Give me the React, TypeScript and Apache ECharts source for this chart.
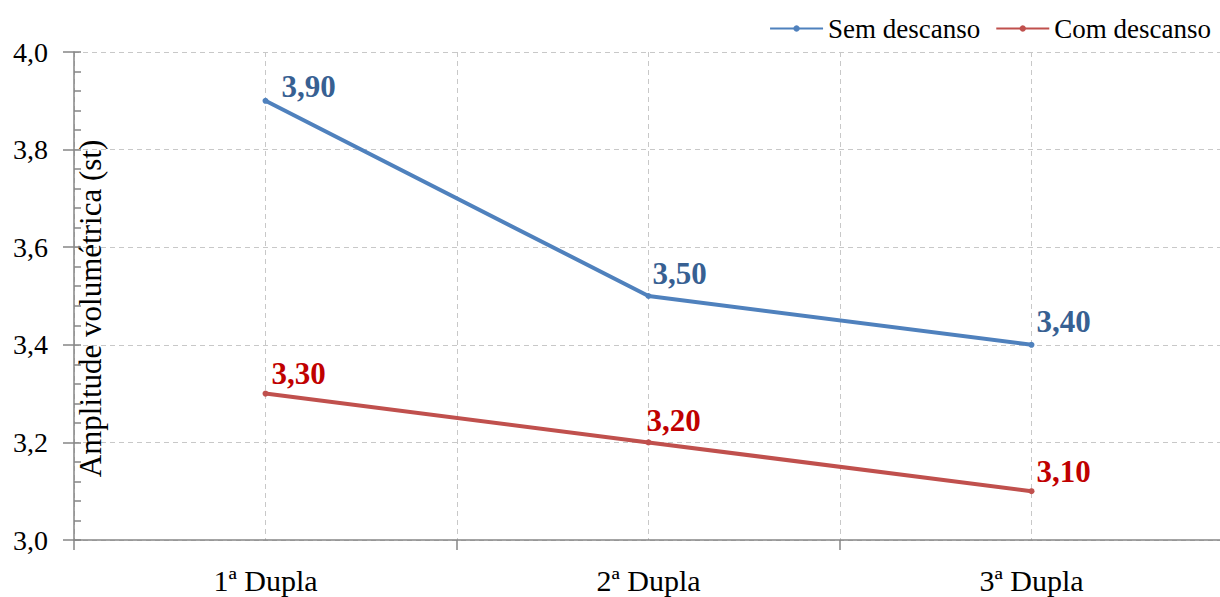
import React, { useEffect, useRef } from "react";
import * as echarts from "echarts";

// Categories and measured values (amplitude, st)
const categories = ["1ª Dupla", "2ª Dupla", "3ª Dupla"];
const semDescanso = [3.9, 3.5, 3.4];
const comDescanso = [3.3, 3.2, 3.1];
const seriesNames = ["Sem descanso", "Com descanso"];
const yTicks = { min: 3.0, max: 4.0, step: 0.2 };

// Per-point label nudges (px) so labels sit just above/right of each marker
const semLabelOffsets = [[13, -14.5], [1, -23], [2, -23.5]];
const comLabelOffsets = [[3, -20], [-5, -22], [2, -20]];

const FONT = "Liberation Serif";
const BLUE = "#4F81BD";
const RED = "#C0504D";
const GRID_LINE = { color: "#c8c8c8", type: [5, 4], width: 1 };
const AXIS_GRAY = "#868686";

function buildData(values: number[], offsets: number[][]) {
  return values.map((v, i) => ({
    value: v,
    label: { offset: offsets[i] },
  }));
}

const valueLabel = (p: any) => Number(p.value).toFixed(2).replace(".", ",");

export default function App() {
  const ref = useRef<HTMLDivElement>(null);

  useEffect(() => {
    if (!ref.current) return;
    const chart = echarts.init(ref.current, undefined, { renderer: "svg" });
    const fmt = (v: number) => v.toFixed(1).replace(".", ",");
    chart.setOption({
      animation: false,
      backgroundColor: "#ffffff",
      textStyle: { fontFamily: FONT },
      grid: { left: 74, right: -3, top: 52, bottom: 57, containLabel: false, outerBoundsMode: "none" },
      legend: {
        right: 4,
        top: 10,
        itemWidth: 53,
        itemHeight: 8,
        itemGap: 15,
        textStyle: { fontFamily: FONT, fontSize: 27, color: "#000" },
        data: seriesNames,
      },
      xAxis: [
        {
          type: "category",
          data: categories,
          boundaryGap: true,
          axisLine: { lineStyle: { color: AXIS_GRAY, width: 1.5 } },
          axisTick: { show: true, length: 10, lineStyle: { color: AXIS_GRAY, width: 1.5 } },
          axisLabel: { fontFamily: FONT, fontSize: 30, color: "#000", margin: 25 },
          splitLine: { show: false },
        },
        {
          // half-category grid lines (centers and boundaries)
          type: "value",
          position: "top",
          min: 0,
          max: 6,
          interval: 1,
          axisLine: { show: false },
          axisTick: { show: false },
          axisLabel: { show: false },
          splitLine: { show: true, lineStyle: GRID_LINE },
        },
      ],
      yAxis: [
        {
          type: "value",
          min: yTicks.min,
          max: yTicks.max,
          interval: yTicks.step,
          name: "Amplitude volumétrica (st)",
          nameLocation: "middle",
          nameGap: -32,
          nameMoveOverlap: false,
          nameTextStyle: { fontFamily: FONT, fontSize: 31, color: "#000", padding: [0, 25, 0, 0] },
          axisLine: { show: true, lineStyle: { color: AXIS_GRAY, width: 1.5 } },
          axisTick: { show: true, length: 11, lineStyle: { color: AXIS_GRAY, width: 1.5 } },
          axisLabel: { fontFamily: FONT, fontSize: 28, color: "#000", margin: 26, formatter: fmt },
          splitLine: { show: true, lineStyle: GRID_LINE },
        },
        {
          // minor ticks on the inner side of the value axis
          type: "value",
          position: "left",
          min: yTicks.min,
          max: yTicks.max,
          interval: 0.04,
          axisLine: { show: false },
          axisTick: { show: true, inside: true, length: 7, lineStyle: { color: AXIS_GRAY, width: 1.5 } },
          axisLabel: { show: false },
          splitLine: { show: false },
        },
      ],
      series: [
        {
          name: seriesNames[0],
          type: "line",
          data: buildData(semDescanso, semLabelOffsets),
          symbol: "circle",
          symbolSize: 6,
          lineStyle: { color: BLUE, width: 4 },
          itemStyle: { color: BLUE },
          label: {
            show: true,
            position: "right",
            distance: 0,
            fontFamily: FONT,
            fontSize: 31,
            fontWeight: "bold",
            color: "#376092",
            formatter: valueLabel,
          },
          z: 3,
        },
        {
          name: seriesNames[1],
          type: "line",
          data: buildData(comDescanso, comLabelOffsets),
          symbol: "circle",
          symbolSize: 6,
          lineStyle: { color: RED, width: 4 },
          itemStyle: { color: RED },
          label: {
            show: true,
            position: "right",
            distance: 0,
            fontFamily: FONT,
            fontSize: 31,
            fontWeight: "bold",
            color: "#C00000",
            formatter: valueLabel,
          },
          z: 3,
        },
      ],
    });
    return () => chart.dispose();
  }, []);

  return (
    <div
      ref={ref}
      style={{ position: "fixed", left: 0, top: 0, width: 1220, height: 597, background: "#fff" }}
    />
  );
}
